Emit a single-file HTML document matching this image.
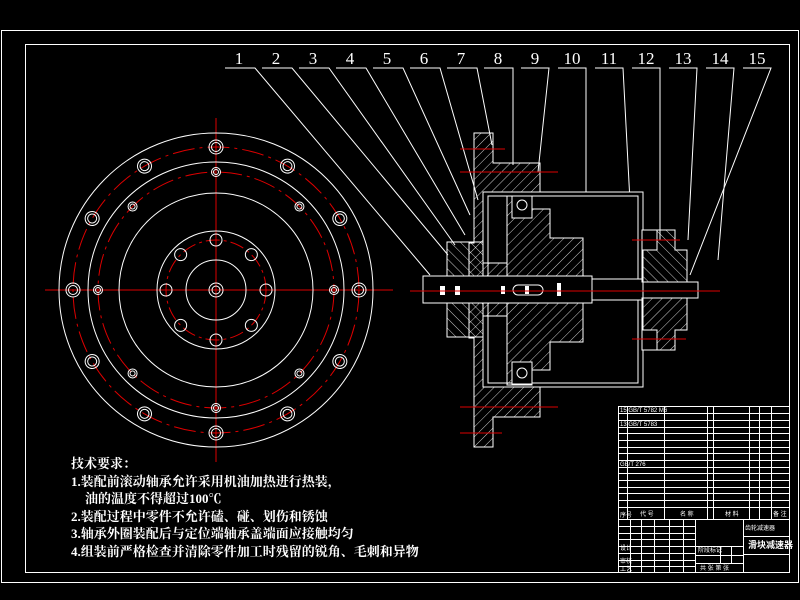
<!DOCTYPE html>
<html><head><meta charset="utf-8"><style>
html,body{margin:0;padding:0;background:#000;}
svg{display:block}
.t{font-family:"Liberation Serif","Noto Serif CJK SC",serif;fill:#fff;font-weight:bold;}
</style></head><body>
<svg width="800" height="600" viewBox="0 0 800 600" xmlns="http://www.w3.org/2000/svg">
<defs>
<pattern id="h" patternUnits="userSpaceOnUse" width="7" height="7" patternTransform="rotate(45)">
<line x1="0" y1="0" x2="0" y2="7" stroke="#fff" stroke-width="0.8"/>
</pattern>
<pattern id="h2" patternUnits="userSpaceOnUse" width="7" height="7" patternTransform="rotate(-45)">
<line x1="0" y1="0" x2="0" y2="7" stroke="#fff" stroke-width="0.8"/>
</pattern>
</defs>
<rect width="800" height="600" fill="#000"/>
<g fill="none" stroke="#fff" stroke-width="1">
<rect x="1.5" y="30.5" width="797" height="552"/>
<rect x="25.5" y="44.5" width="764" height="528"/>
</g>
<!-- labels -->
<g class="t" font-size="17" text-anchor="middle" style="font-weight:normal">
<text x="239" y="64">1</text><text x="276" y="64">2</text><text x="313" y="64">3</text><text x="350" y="64">4</text><text x="387" y="64">5</text><text x="424" y="64">6</text><text x="461" y="64">7</text><text x="498" y="64">8</text><text x="535" y="64">9</text><text x="572" y="64">10</text><text x="609" y="64">11</text><text x="646" y="64">12</text><text x="683" y="64">13</text><text x="720" y="64">14</text><text x="757" y="64">15</text>
</g>
<g stroke="#fff" stroke-width="1" fill="none">
<path d="M225 68H255L430 275"/><path d="M262 68H292L448 255"/><path d="M299 68H329L455 245"/><path d="M336 68H366L465 235"/><path d="M373 68H403L470 215"/><path d="M410 68H440L478 200"/><path d="M447 68H477L492 145"/><path d="M484 68H513V165"/><path d="M521 68H549L538 172"/><path d="M558 68H586V230"/><path d="M595 68H623L632 240"/><path d="M632 68H660V240"/><path d="M669 68H697L688 240"/><path d="M706 68H734L718 260"/><path d="M743 68H771L690 275"/>
</g>
<!-- left view -->
<g stroke="#d00" stroke-width="1" fill="none">
<line x1="45" y1="290" x2="393" y2="290"/>
<line x1="216" y1="118" x2="216" y2="462"/>
<circle cx="216" cy="290" r="143" stroke-dasharray="22 5 3 5"/>
<circle cx="216" cy="290" r="118" stroke-dasharray="22 5 3 5"/>
<circle cx="216" cy="290" r="50" stroke-dasharray="14 4 3 4"/>
</g>
<g stroke="#fff" stroke-width="1" fill="none">
<circle cx="216" cy="290" r="157"/><circle cx="216" cy="290" r="128"/><circle cx="216" cy="290" r="97"/><circle cx="216" cy="290" r="59"/><circle cx="216" cy="290" r="30"/><circle cx="216" cy="290" r="7"/><circle cx="216" cy="290" r="4"/>
<g id="ob">
<circle cx="216" cy="147" r="7"/><circle cx="216" cy="147" r="4.5"/>
</g>
<use href="#ob" transform="rotate(30 216 290)"/><use href="#ob" transform="rotate(60 216 290)"/><use href="#ob" transform="rotate(90 216 290)"/><use href="#ob" transform="rotate(120 216 290)"/><use href="#ob" transform="rotate(150 216 290)"/><use href="#ob" transform="rotate(180 216 290)"/><use href="#ob" transform="rotate(210 216 290)"/><use href="#ob" transform="rotate(240 216 290)"/><use href="#ob" transform="rotate(270 216 290)"/><use href="#ob" transform="rotate(300 216 290)"/><use href="#ob" transform="rotate(330 216 290)"/>
<g id="ib"><circle cx="216" cy="172" r="4.5"/><circle cx="216" cy="172" r="2.5"/></g>
<use href="#ib" transform="rotate(45 216 290)"/><use href="#ib" transform="rotate(90 216 290)"/><use href="#ib" transform="rotate(135 216 290)"/><use href="#ib" transform="rotate(180 216 290)"/><use href="#ib" transform="rotate(225 216 290)"/><use href="#ib" transform="rotate(270 216 290)"/><use href="#ib" transform="rotate(315 216 290)"/>
<g id="hb"><circle cx="216" cy="240" r="6"/></g>
<use href="#hb" transform="rotate(45 216 290)"/><use href="#hb" transform="rotate(90 216 290)"/><use href="#hb" transform="rotate(135 216 290)"/><use href="#hb" transform="rotate(180 216 290)"/><use href="#hb" transform="rotate(225 216 290)"/><use href="#hb" transform="rotate(270 216 290)"/><use href="#hb" transform="rotate(315 216 290)"/>
</g>
<!-- section view -->
<g stroke="#fff" stroke-width="1">
<!-- flange -->
<path d="M474 133H493V163H540V192H483V387H540V417H493V447H474V338H469V243H474Z" fill="url(#h)"/>
<rect x="483" y="192" width="160" height="195" fill="#000"/>
<rect x="488" y="196" width="150" height="187" fill="none"/>
<!-- gear -->
<path d="M507 196H532V209H550V238H583V342H550V370H532V385H507Z" fill="url(#h)"/>
<!-- bearings -->
<rect x="512" y="196" width="20" height="22" fill="#000"/><circle cx="522" cy="205" r="5" fill="none"/>
<rect x="512" y="362" width="20" height="22" fill="#000"/><circle cx="522" cy="373" r="5" fill="none"/>
<!-- left cap -->
<path d="M447 242H483V337H447Z" fill="url(#h2)"/>
<rect x="483" y="263" width="24" height="53" fill="url(#h)"/>
<!-- shaft -->
<rect x="423" y="276" width="169" height="27" fill="#000"/>
<rect x="592" y="279" width="51" height="21" fill="#000"/>
<rect x="643" y="282" width="55" height="16" fill="#000"/>
<rect x="513" y="285" width="30" height="10" rx="5" fill="none"/>
<!-- right cap -->
<path d="M642 230H675V250H687V282H642Z" fill="url(#h2)"/>
<path d="M642 298H687V330H675V350H642Z" fill="url(#h)"/>
<rect x="642" y="230" width="15" height="20" fill="#000"/>
<rect x="642" y="330" width="15" height="20" fill="#000"/>
</g>
<g fill="#fff">
<rect x="440" y="286" width="5" height="9"/><rect x="455" y="286" width="5" height="9"/><rect x="501" y="286" width="4" height="8"/><rect x="525" y="286" width="4" height="8"/><rect x="557" y="283" width="4" height="13"/>
</g>
<g stroke="#d00" stroke-width="1">
<line x1="410" y1="291" x2="720" y2="291"/>
<line x1="460" y1="149" x2="505" y2="149"/><line x1="460" y1="172" x2="558" y2="172"/>
<line x1="460" y1="407" x2="558" y2="407"/><line x1="460" y1="433" x2="502" y2="433"/>
<line x1="632" y1="240" x2="680" y2="240"/><line x1="632" y1="339" x2="686" y2="339"/>
</g>
<!-- tech text -->
<g class="t" font-size="13">
<text x="71" y="468">技术要求：</text>
<text x="71" y="486">1.装配前滚动轴承允许采用机油加热进行热装，</text>
<text x="85" y="503">油的温度不得超过100℃</text>
<text x="71" y="521">2.装配过程中零件不允许磕、碰、划伤和锈蚀</text>
<text x="71" y="538">3.轴承外圈装配后与定位端轴承盖端面应接触均匀</text>
<text x="71" y="556">4.组装前严格检查并清除零件加工时残留的锐角、毛刺和异物</text>
</g>
<!-- title block -->
<g stroke="#fff" stroke-width="1" fill="none">
<rect x="618.5" y="406.5" width="171" height="166"/>
<path d="M618 413.5H790M618 420.5H790M618 427.5H790M618 433.5H790M618 440.5H790M618 447.5H790M618 453.5H790M618 460.5H790M618 467.5H790M618 473.5H790M618 480.5H790M618 487.5H790M618 493.5H790M618 500.5H790M618 507.5H790M618 519.5H790"/>
<path d="M627.5 407V519M664.5 407V519M707.5 407V519M713.5 407V519M749.5 407V519M759.5 407V519M771.5 407V519"/>
<path d="M695.5 519V573M743.5 519V573M618 526.5H695M618 533.5H695M618 539.5H695M618 546.5H695M618 553.5H695M618 560.5H695M618 566.5H695M630.5 519V573M641.5 519V573M654.5 519V573M669.5 519V573M683.5 519V573"/>
<path d="M695 546.5H743M695 555.5H743M695 563.5H743M720.5 546V563M731.5 546V563M743 536.5H790M743 554.5H790"/>
</g>
<g fill="#fff" font-family="Liberation Sans,'Noto Sans CJK SC',sans-serif" font-size="6">
<text x="620" y="412">15 GB/T 5782 M6</text><text x="620" y="426">13 GB/T 5783</text><text x="620" y="466">GB/T 276</text>
<text x="620" y="517">序号</text><text x="640" y="516">代 号</text><text x="680" y="516">名 称</text><text x="725" y="516">材 料</text><text x="773" y="516">备 注</text>
<text x="745" y="530">齿轮减速器</text>
<text x="748" y="548" font-size="9" font-weight="bold">滑块减速器</text>
<text x="698" y="552">阶段标记</text><text x="700" y="570">共 张 第 张</text>
<text x="620" y="550">设计</text><text x="620" y="563">审核</text><text x="620" y="571">工艺</text>
</g>
</svg>
</body></html>
